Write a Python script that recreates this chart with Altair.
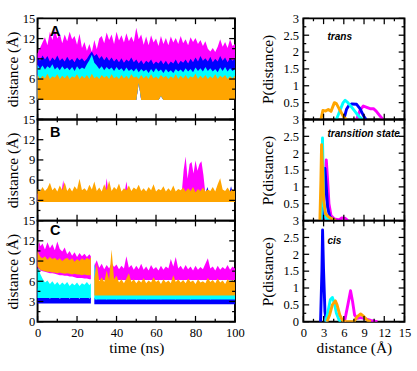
import altair as alt
import numpy as np
import pandas as pd

# ---------------------------------------------------------------- colours
COLORS = {"magenta": "#ff00ff", "blue": "#0000ff", "cyan": "#00ffff", "orange": "#ffa500"}
DRAW_ORDER = ["magenta", "blue", "cyan", "orange"]

# ---------------------------------------------------------------- time series (distance envelopes, Å)
T = [float(v) for v in np.arange(0, 100.001, 1.25)]  # 1.25 ns sampling grid, 81 points

# panel A (trans): upper edges of each trace, lower edge of the orange trace
A_mag_hi = [9.8, 10.6, 11.4,
            12.2, 11.0, 13.0, 11.8, 13.4, 12.0, 12.8,
            11.3, 12.6, 11.6, 13.0, 11.9, 12.4, 11.1, 12.7,
            10.6, 11.5, 10.2, 11.2, 10.0, 11.8, 10.4, 12.0,
            12.4, 11.3, 12.9, 11.8, 12.6, 11.2, 13.0, 11.7, 12.5, 11.4, 12.8, 11.6, 12.3, 11.5,
            13.6, 11.9,
            12.6, 11.1, 12.3, 11.0, 12.5, 11.4, 12.0, 10.9, 12.4, 11.2, 12.1, 11.0,
            12.3, 11.4, 12.1, 11.2, 12.4, 11.3, 11.9, 11.0, 12.2, 11.5,
            12.1, 11.2, 11.8, 10.9, 11.6, 10.5,
            10.1, 10.6, 10.0, 10.8,
            11.9, 10.8, 11.5, 10.6, 11.9, 10.9, 11.2]
A_blue_hi = [9.3, 8.7, 9.5, 8.9, 9.4, 8.6, 9.2, 8.8, 9.5, 8.7,
             9.1, 8.6, 9.3, 8.7, 9.0, 8.5, 9.2, 8.8, 9.1, 8.6,
             9.0, 9.6, 10.1, 9.4, 9.7, 9.0, 9.4, 8.8, 9.3, 8.7,
             9.2, 8.6, 9.0, 8.5, 9.1, 8.4, 8.9, 8.6, 9.2, 8.5,
             8.9, 8.3, 8.8, 8.2, 8.7, 8.4, 8.9, 8.2, 8.6, 8.3,
             8.8, 8.2, 8.7, 8.1, 8.6, 8.3, 8.9, 8.2, 8.7, 8.4,
             8.9, 8.3, 9.0, 8.5, 9.2, 8.6, 9.4, 8.7, 9.1, 8.6,
             9.3, 8.5, 9.0, 8.6, 9.4, 8.7, 9.2, 8.5, 9.1, 8.7, 9.0]
A_cyan_hi = [8.1, 7.5, 8.0, 7.4, 7.9, 7.6, 8.2, 7.4, 7.8, 7.3,
             7.9, 7.4, 7.7, 7.3, 7.8, 7.2, 7.9, 7.4, 7.7, 7.5,
             8.2, 8.8, 9.6, 8.4, 8.0, 7.5, 7.9, 7.3, 7.8, 7.4,
             7.7, 7.2, 7.8, 7.3, 7.6, 7.1, 7.7, 7.2, 7.5, 7.1,
             7.6, 7.0, 7.5, 7.1, 7.4, 6.9, 7.5, 7.0, 7.6, 7.1,
             7.4, 6.9, 7.5, 7.0, 7.3, 6.9, 7.5, 7.1, 7.4, 7.0,
             7.6, 7.1, 7.5, 7.0, 7.7, 7.2, 7.6, 7.1, 7.8, 7.2,
             7.6, 7.1, 7.5, 7.0, 7.7, 7.2, 7.8, 7.1, 7.6, 7.2, 7.5]
A_org_hi = [6.6, 6.0, 6.5, 6.1, 6.8, 6.0, 6.4, 6.2, 6.7, 6.0,
            6.5, 6.1, 6.6, 6.0, 6.4, 6.2, 6.7, 6.0, 6.5, 6.1,
            6.6, 6.0, 6.8, 6.1, 6.4, 6.0, 6.6, 6.2, 6.5, 6.0,
            6.7, 6.1, 6.4, 6.0, 6.6, 6.1, 6.5, 6.0, 6.7, 6.2,
            6.4, 6.0, 6.6, 6.1, 6.5, 6.0, 6.7, 6.1, 6.4, 6.0,
            6.6, 6.2, 6.5, 6.0, 6.4, 6.1, 6.7, 6.0, 6.5, 6.1,
            6.6, 6.0, 6.4, 6.2, 6.8, 6.0, 6.5, 6.1, 6.6, 6.0,
            6.4, 6.1, 6.7, 6.0, 6.5, 6.2, 6.6, 6.0, 6.4, 6.1, 6.5]
A_org_lo_base = 2.9
A_org_lo_dips = {51.25: 5.4, 62.5: 3.5}

# panel B (transition state)
B_org_hi = [4.7, 4.3, 5.0, 4.4, 4.8, 5.6, 4.5, 4.9, 4.3, 5.2,
            4.5, 5.7, 4.4, 4.9, 4.3, 5.1, 4.6, 6.2, 4.5, 4.8,
            4.4, 5.3, 4.6, 5.8, 4.4, 4.9, 4.3, 5.4, 4.5, 5.9,
            4.4, 5.0, 4.6, 5.5, 4.3, 4.8, 4.5, 5.2, 4.4, 4.9,
            4.6, 5.3, 4.4, 4.8, 4.3, 5.0, 4.5, 5.4, 4.3, 4.7,
            4.5, 5.1, 4.3, 4.8, 4.4, 5.2, 4.3, 4.7, 4.5, 4.9,
            4.3, 4.8, 4.4, 5.0, 4.2, 4.7, 4.4, 4.9, 4.3, 4.6,
            4.4, 5.0, 4.3, 5.4, 6.3, 4.6, 4.4, 4.9, 4.3, 4.7, 4.4]
B_lo = 2.75
B_mag_t = [0, 12, 13, 14, 34, 35, 36, 44, 45, 46, 73, 74, 75, 76, 77, 78, 79, 80, 81, 82, 83, 84, 85, 100]
B_mag_hi = [4.0, 4.0, 6.0, 4.0, 4.0, 6.3, 4.0, 4.0, 5.8, 4.0, 4.0, 7.5, 9.5, 6.2, 8.4, 8.7,
            7.0, 8.9, 7.4, 8.4, 8.8, 6.8, 4.0, 4.0]
B_blue_t = [0, 85, 86, 87, 90, 91, 92, 97, 98, 99, 100]
B_blue_hi = [4.0, 4.0, 5.0, 4.0, 4.0, 4.9, 4.0, 4.0, 5.1, 4.0, 4.0]

# panel C (cis): before the switch near 28 ns ...
C1_t = [0, 0.75, 1.5, 2.5, 3.75, 5, 6.25, 7.5, 8.75, 10, 11.25, 12.5, 13.75, 15, 16.25,
        17.5, 18.75, 20, 21.25, 22.5, 23.75, 25, 26.25, 27]
C1_mag_hi = [10.0, 11.9, 11.2, 11.6, 10.7, 11.8, 10.9, 11.5, 10.6, 11.9, 10.8, 10.4, 11.0,
             10.0, 10.5, 9.8, 10.3, 9.6, 10.2, 9.7, 10.1, 9.6, 10.0, 9.7]
C1_mag_lo = [8.0, 7.8, 7.6, 7.5, 7.4, 7.3, 7.2, 7.2, 7.1, 7.0, 6.9, 6.9, 6.8, 6.8, 6.7,
             6.7, 6.6, 6.5, 6.5, 6.5, 6.4, 6.4, 6.3, 6.3]
C1_org_hi = [10.5, 10.0, 9.6, 9.4, 9.7, 9.2, 9.6, 9.3, 9.5, 9.1, 9.4, 9.0, 9.3, 9.5, 9.1,
             9.4, 8.9, 9.3, 9.0, 9.4, 9.1, 9.5, 9.2, 9.6]
C1_org_lo = [8.2, 7.9, 7.7, 7.6, 7.5, 7.4, 7.4, 7.3, 7.3, 7.2, 7.3, 7.2, 7.1, 7.2, 7.1,
             7.0, 7.1, 7.0, 7.0, 6.9, 7.0, 6.9, 6.9, 6.9]
C1_cyan_hi = [8.0, 7.6, 7.0, 6.4, 5.8, 6.1, 5.6, 6.0, 5.5, 5.9, 5.4, 5.8, 5.5, 5.9, 5.3,
              5.7, 5.4, 5.8, 5.3, 5.7, 5.5, 5.9, 5.4, 5.7]
C1_cyan_lo = 3.5
C1_blue_hi = [5.0, 4.6, 4.1, 3.8, 3.5, 3.9, 3.4, 3.8, 3.5, 3.9, 3.4, 3.7, 3.5, 3.9, 3.4,
              3.8, 3.5, 3.7, 3.4, 3.9, 3.5, 3.8, 3.4, 3.7]
C1_blue_lo = 2.7

# ... and after it
C2_t = [float(v) for v in np.arange(28.75, 100.001, 1.25)]  # 58 points
C2_mag_hi = [8.3, 9.1, 8.0, 8.6, 7.8, 8.4, 7.9, 8.7, 8.1, 8.5, 7.8, 8.3, 7.9, 9.7, 8.0,
             8.4, 7.7, 8.3, 7.8, 8.6, 7.7, 8.2, 7.6, 8.4, 7.8, 8.1, 7.6, 8.3, 7.7, 8.2,
             7.9, 9.3, 8.2, 9.6, 7.9, 8.3, 7.7, 8.4, 7.8, 8.2, 7.6, 8.3, 7.7, 8.1, 7.8,
             8.6, 9.4, 7.9, 8.2, 7.6, 8.3, 7.7, 8.1, 7.8, 8.4, 7.7, 8.2, 7.9]
C2_mag_lo = 6.2
C2_org_hi = [6.4, 8.6, 6.0, 6.6, 5.9, 7.6, 6.2, 10.7, 6.3, 6.8, 5.8, 6.3, 5.7, 6.4, 7.2,
             5.9, 6.3, 5.7, 6.2, 5.8, 6.5, 5.7, 6.1, 5.8, 6.6, 5.9, 6.2, 5.6, 6.3, 5.8,
             6.1, 5.7, 6.9, 5.9, 6.3, 5.8, 6.2, 5.7, 6.4, 5.9, 6.1, 5.6, 6.3, 5.8, 6.0,
             5.7, 6.5, 5.9, 6.2, 5.7, 6.4, 5.8, 6.1, 5.6, 6.3, 5.9, 6.2, 5.8]
C2_org_lo = 3.9
C2_cyan_hi = [8.8, 6.4, 4.4, 4.0, 4.3, 4.1, 4.4, 4.0, 4.2, 4.3, 4.0, 4.2, 4.4, 4.1, 4.0,
              4.3, 4.1, 4.2, 4.0, 4.4, 4.1, 4.2, 4.0, 4.3, 4.1, 4.0, 4.3, 4.2, 4.0, 4.4,
              4.1, 4.2, 4.0, 4.3, 4.1, 4.2, 4.0, 4.4, 4.1, 4.0, 4.3, 4.2, 4.0, 4.3, 4.1,
              4.2, 4.4, 4.0, 4.2, 4.1, 4.3, 4.0, 4.2, 4.1, 4.4, 4.0, 4.2, 4.1]
C2_cyan_lo = 3.3
C2_blue_hi = [3.6, 3.3, 3.8, 3.4, 3.7, 3.3, 3.9, 3.4, 3.8, 3.3, 3.7, 3.4, 3.9, 3.3, 3.7,
              3.4, 3.8, 3.3, 3.6, 3.4, 3.9, 3.3, 3.7, 3.5, 3.9, 3.4, 3.8, 3.3, 3.7, 3.5,
              3.8, 3.4, 3.9, 3.3, 3.7, 3.5, 3.8, 3.4, 3.6, 3.3, 3.9, 3.4, 3.7, 3.5, 3.8,
              3.4, 3.9, 3.3, 3.7, 3.5, 3.8, 3.4, 3.9, 3.5, 3.7, 3.4, 3.8, 3.6]
C2_blue_lo = 2.6

# ---------------------------------------------------------------- distance distributions P(distance)
D_trans = {
    "orange": ([2.6, 2.9, 3.3, 3.7, 4.1, 4.6, 4.9, 5.3, 5.7, 6.0, 6.4],
               [0.0, 0.27, 0.25, 0.30, 0.24, 0.50, 0.47, 0.32, 0.18, 0.06, 0.0]),
    "cyan": ([4.9, 5.4, 5.9, 6.2, 6.6, 7.1, 7.8, 8.4, 8.8],
             [0.0, 0.25, 0.50, 0.57, 0.50, 0.38, 0.20, 0.06, 0.0]),
    "blue": ([6.0, 6.4, 6.8, 7.2, 7.9, 8.4, 8.9, 9.3],
             [0.0, 0.30, 0.43, 0.46, 0.45, 0.32, 0.12, 0.0]),
    "magenta": ([7.9, 8.4, 8.9, 9.4, 9.9, 10.4, 10.8, 11.3, 11.8],
                [0.0, 0.27, 0.40, 0.36, 0.32, 0.32, 0.25, 0.12, 0.0]),
}
D_ts = {
    "orange": ([2.45, 2.6, 2.7, 2.85, 3.0, 3.3, 3.8, 4.3, 4.8],
               [0.0, 1.2, 2.25, 1.5, 0.6, 0.2, 0.1, 0.05, 0.0]),
    "cyan": ([2.65, 2.84, 3.0, 3.3, 3.8],
             [0.0, 2.45, 0.6, 0.1, 0.0]),
    "blue": ([2.9, 3.05, 3.2, 3.4, 3.6, 3.9, 4.4, 4.8],
             [0.0, 0.8, 1.55, 1.0, 0.4, 0.12, 0.03, 0.0]),
    "magenta": ([2.95, 3.15, 3.4, 3.6, 3.8, 4.1, 4.6, 5.3, 5.7, 6.2, 6.6],
                [0.0, 1.0, 1.8, 1.2, 0.5, 0.15, 0.05, 0.02, 0.08, 0.07, 0.0]),
}
D_cis = {
    "orange": ([3.5, 3.9, 4.3, 4.75, 5.0, 5.4, 5.8, 6.3, 7.5, 8.0, 8.5, 9.0, 9.5, 10.0],
               [0.0, 0.2, 0.5, 0.62, 0.5, 0.2, 0.04, 0.0, 0.0, 0.15, 0.23, 0.15, 0.04, 0.0]),
    "cyan": ([3.3, 3.7, 4.0, 4.3, 4.6, 4.9, 5.3, 5.6],
             [0.0, 0.35, 0.65, 0.72, 0.55, 0.25, 0.05, 0.0]),
    "blue": ([2.55, 2.75, 2.85, 3.0, 3.2, 3.4],
             [0.0, 1.5, 2.72, 1.5, 0.3, 0.0]),
    "magenta": ([6.1, 6.6, 7.0, 7.3, 7.6, 8.0, 8.5, 9.0, 9.5, 10.0, 10.5, 11.0],
                [0.0, 0.5, 0.92, 0.6, 0.2, 0.1, 0.12, 0.1, 0.07, 0.04, 0.02, 0.0]),
}

# ---------------------------------------------------------------- tick positions
TS_MAJ_X, TS_MIN_X = [0, 20, 40, 60, 80, 100], [10, 30, 50, 70, 90]
TS_MAJ_Y, TS_MIN_Y = [0, 3, 6, 9, 12, 15], [1.5, 4.5, 7.5, 10.5, 13.5]
P_MAJ_X, P_MIN_X = [0, 3, 6, 9, 12, 15], [1.5, 4.5, 7.5, 10.5, 13.5]
P_MAJ_Y = [0, 0.5, 1, 1.5, 2, 2.5, 3]
P_MIN_Y = [0.25, 0.75, 1.25, 1.75, 2.25, 2.75]

LW, LH = 205, 105   # time-series panels
RW, RH = 105, 105   # distribution panels
SERIF = "Liberation Serif"
SANS = "Liberation Sans"


def as_list(v, n):
    return list(v) if isinstance(v, (list, tuple)) else [v] * n


def band_frame(segments):
    rows = []
    for seg, (t, lo, hi) in enumerate(segments):
        lo = as_list(lo, len(t))
        for a, b, c in zip(t, lo, hi):
            rows.append({"t": float(a), "lo": float(b), "hi": float(c), "seg": f"s{seg}"})
    return pd.DataFrame(rows)


def tick_layers(xscale, yscale, xmaj, xmin, ymaj, ymin, W, H, xaxis, yaxis):
    """Inward-pointing ticks on all four sides of a panel."""
    layers = []
    for vals, ln in ((xmaj, 6), (xmin, 3)):
        df = pd.DataFrame({"v": vals})
        x = alt.X("v:Q", scale=xscale, axis=xaxis)
        for ypos in (ln / 2, H - ln / 2):
            layers.append(alt.Chart(df).mark_tick(
                color="black", thickness=1.3, size=ln, orient="vertical", opacity=1
            ).encode(x=x, y=alt.value(ypos)))
    for vals, ln in ((ymaj, 6), (ymin, 3)):
        df = pd.DataFrame({"v": vals})
        y = alt.Y("v:Q", scale=yscale, axis=yaxis)
        for xpos in (ln / 2, W - ln / 2):
            layers.append(alt.Chart(df).mark_tick(
                color="black", thickness=1.3, size=ln, orient="horizontal", opacity=1
            ).encode(y=y, x=alt.value(xpos)))
    return layers


def label_layer(text, x, y, size, italic=False, weight="bold"):
    return alt.Chart(pd.DataFrame({"s": [text]})).mark_text(
        text=text, font=SANS, fontSize=size, fontWeight=weight,
        fontStyle="italic" if italic else "normal", align="left", baseline="middle",
        color="black").encode(x=alt.value(x), y=alt.value(y))


def time_panel(bands, letter, letter_y, bottom):
    xs = alt.Scale(domain=[0, 100], nice=False, zero=False)
    ys = alt.Scale(domain=[0, 15], nice=False, zero=False)
    if bottom:
        xaxis = alt.Axis(values=TS_MAJ_X, title="time (ns)", ticks=False, domain=False,
                         grid=False, labelPadding=5, titlePadding=1, labelFlush=False,
                         labelOverlap=False, format="d")
    else:
        xaxis = None
    yaxis = alt.Axis(values=TS_MAJ_Y if bottom else TS_MAJ_Y[1:], title="distance (Å)",
                     ticks=False, domain=False, grid=False, labelPadding=3, titlePadding=2,
                     labelFlush=False, labelOverlap=False, format="d")
    layers = []
    for name in DRAW_ORDER:
        if name not in bands:
            continue
        df = band_frame(bands[name])
        layers.append(alt.Chart(df).mark_area(color=COLORS[name], opacity=1).encode(
            x=alt.X("t:Q", scale=xs, axis=xaxis),
            y=alt.Y("lo:Q", scale=ys, axis=yaxis),
            y2=alt.Y2("hi:Q"),
            detail=alt.Detail("seg:N")))
    layers += tick_layers(xs, ys, TS_MAJ_X, TS_MIN_X, TS_MAJ_Y, TS_MIN_Y, LW, LH, xaxis, yaxis)
    layers.append(label_layer(letter, 13, letter_y, 15, weight=900))
    return alt.layer(*layers).properties(width=LW, height=LH)


def dist_panel(curves, title, title_y, bottom):
    xs = alt.Scale(domain=[0, 15], nice=False, zero=False)
    ys = alt.Scale(domain=[0, 3], nice=False, zero=False)
    if bottom:
        xaxis = alt.Axis(values=P_MAJ_X, title="distance (Å)", ticks=False, domain=False,
                         grid=False, labelPadding=5, titlePadding=1, labelFlush=False,
                         labelOverlap=False, format="d")
    else:
        xaxis = None
    yaxis = alt.Axis(values=P_MAJ_Y if bottom else P_MAJ_Y[1:], title="P(distance)",
                     ticks=False, domain=False, grid=False, labelPadding=5, titlePadding=8,
                     labelFlush=False, labelOverlap=False, format="~g")
    layers = []
    for name in DRAW_ORDER:
        d, p = curves[name]
        df = pd.DataFrame({"d": d, "p": p, "i": range(len(d))})
        layers.append(alt.Chart(df).mark_line(color=COLORS[name], strokeWidth=3,
                                              strokeJoin="round", clip=True).encode(
            x=alt.X("d:Q", scale=xs, axis=xaxis),
            y=alt.Y("p:Q", scale=ys, axis=yaxis),
            order="i:Q"))
    layers += tick_layers(xs, ys, P_MAJ_X, P_MIN_X, P_MAJ_Y, P_MIN_Y, RW, RH, xaxis, yaxis)
    layers.append(label_layer(title, 25, title_y, 10.5, italic=True))
    return alt.layer(*layers).properties(width=RW, height=RH)


A_org_lo = [A_org_lo_dips.get(t, A_org_lo_base) for t in T]

panel_a = time_panel({
    "magenta": [(T, A_org_lo, A_mag_hi)],
    "blue": [(T, A_org_lo, A_blue_hi)],
    "cyan": [(T, A_org_lo, A_cyan_hi)],
    "orange": [(T, A_org_lo, A_org_hi)],
}, "A", 13, False)

panel_b = time_panel({
    "magenta": [(B_mag_t, B_lo, B_mag_hi)],
    "blue": [(B_blue_t, B_lo, B_blue_hi)],
    "orange": [(T, B_lo, B_org_hi)],
}, "B", 13, False)

panel_c = time_panel({
    "magenta": [(C1_t, C1_mag_lo, C1_mag_hi), (C2_t, C2_mag_lo, C2_mag_hi)],
    "blue": [(C1_t, C1_blue_lo, C1_blue_hi), (C2_t, C2_blue_lo, C2_blue_hi)],
    "cyan": [(C1_t, C1_cyan_lo, C1_cyan_hi), (C2_t, C2_cyan_lo, C2_cyan_hi)],
    "orange": [(C1_t, C1_org_lo, C1_org_hi), (C2_t, C2_org_lo, C2_org_hi)],
}, "C", 10, True)

dist_trans = dist_panel(D_trans, "trans", 19, False)
dist_ts = dist_panel(D_ts, "transition state", 15, False)
dist_cis = dist_panel(D_cis, "cis", 21, True)

left = alt.vconcat(panel_a, panel_b, panel_c, spacing=0, bounds="flush")
right = alt.vconcat(dist_trans, dist_ts, dist_cis, spacing=0, bounds="flush")

chart = alt.hconcat(left, right, spacing=13).properties(
    padding={"left": 4, "top": 5, "right": 5, "bottom": 5},
    background="white"
).configure_view(
    stroke="black", strokeWidth=2
).configure_axis(
    labelFont=SERIF, labelFontSize=13, labelColor="black",
    titleFont=SERIF, titleFontSize=16, titleFontWeight="normal", titleColor="black"
)

chart.save("out.html", embed_options={"renderer": "svg", "actions": False})
